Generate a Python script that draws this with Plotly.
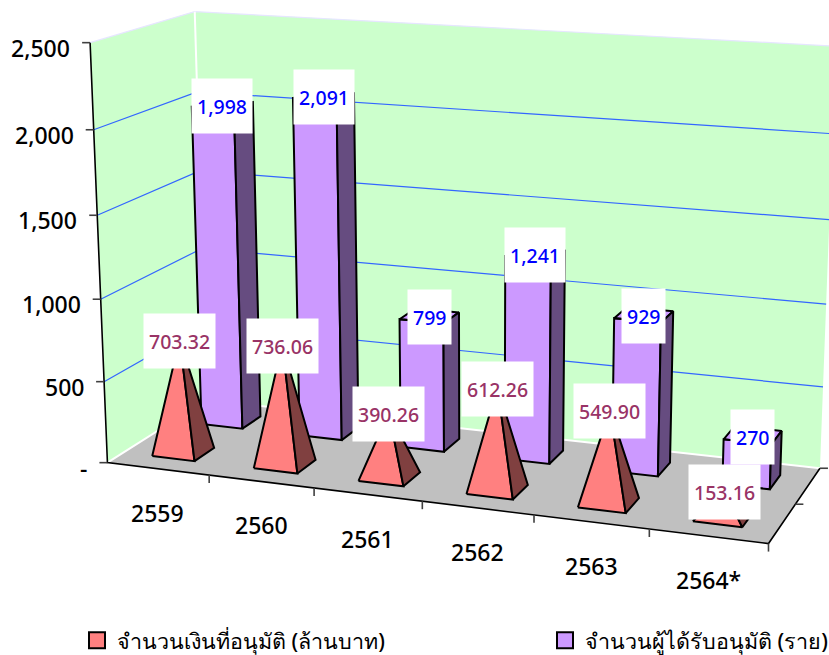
import numpy as np
import plotly.graph_objects as go

categories = ["2559", "2560", "2561", "2562", "2563", "2564*"]
amount = [703.32, 736.06, 390.26, 612.26, 549.90, 153.16]
people = [1998, 2091, 799, 1241, 929, 270]
name_a = "จำนวนเงินที่อนุมัติ (ล้านบาท)"
name_b = "จำนวนผู้ได้รับอนุมัติ (ราย)"
z_ticks = [0, 500, 1000, 1500, 2000, 2500]
z_text = ["-", "500", "1,000", "1,500", "2,000", "2,500"]
W, H = 829, 655
ZMAX = 2500
NCAT = len(categories)

# perspective of the 3-D box (unit box -> window), calibrated on its visible corners
view = [((0,0,0),(107.7,462.7)),((0,0,1),(90,43)),((1,0,0),(768,544)),((0,1,0),(206,400)),
        ((0,1,1),(195,12)),((1,1,0),(820,468)),((1,1,1),(836,46)),((1/6,0,0),(209,475.3)),
        ((2/6,0,0),(315,488)),((0,0,.8),(93.5,130)),((0,0,.6),(97,214))]
rows = []
for (a,b,c),(u,v) in view:
    rows.append([a,b,c,1,0,0,0,0,-u*a,-u*b,-u*c,-u])
    rows.append([0,0,0,0,a,b,c,1,-v*a,-v*b,-v*c,-v])
PM = np.linalg.svd(np.array(rows,float))[2][-1].reshape(3,4)

def pr(x, d, z):
    """category position, depth 0-1, value -> window position"""
    w = PM @ np.array([x/NCAT, d, z/ZMAX, 1.0])
    return (w[0]/w[2], w[1]/w[2])

def poly_trace(polys, fill, line=None, lw=2, closed=True):
    xs, ys = [], []
    for poly in polys:
        pts = [pr(*q) for q in poly]
        if closed: pts = pts+[pts[0]]
        xs += [p[0] for p in pts]+[None]
        ys += [p[1] for p in pts]+[None]
    return go.Scatter(x=xs,y=ys,mode="lines" if line else "none",fill="toself" if fill else None,
        fillcolor=fill,line=dict(color=line or "rgba(0,0,0,0)",width=lw),hoverinfo="skip",showlegend=False)

traces = []
# walls and floor
traces.append(poly_trace([[(0,0,0),(0,0,ZMAX),(0,1,ZMAX),(0,1,0)],[(0,1,0),(0,1,ZMAX),(NCAT,1,ZMAX),(NCAT,1,0)]],"#CCFFCC"))
traces.append(poly_trace([[(0,0,0),(NCAT,0,0),(NCAT,1,0),(0,1,0)]],"#C0C0C0"))
# gridlines
grid = [[(0,0,z),(0,1,z),(NCAT,1,z)] for z in z_ticks[1:-1]]
traces.append(poly_trace(grid,None,"#3366FF",1.2,closed=False))
traces.append(poly_trace([[(0,0,ZMAX),(0,1,ZMAX),(NCAT,1,ZMAX)]],None,"#E6E6FF",1.2,closed=False))
traces.append(poly_trace([[(0,1,ZMAX),(0,1,0)],[(0,0,0),(0,1,0),(NCAT,1,0)]],None,"white",2,closed=False))
# axis lines
traces.append(poly_trace([[(0,0,ZMAX),(0,0,0),(NCAT,0,0),(NCAT,1,0)]],None,"black",1.6,closed=False))
# tick marks (short strokes next to the axis)
tx, ty = [], []
for z in z_ticks:
    p = pr(0,0,z); tx += [p[0]-8,p[0],None]; ty += [p[1],p[1],None]
for i in range(1,NCAT+1):
    p = pr(i,0,0); tx += [p[0],p[0],None]; ty += [p[1],p[1]+8,None]
for d in [0.5,1]:
    p = pr(NCAT,d,0); tx += [p[0],p[0]+8,None]; ty += [p[1],p[1],None]
traces.append(go.Scatter(x=tx,y=ty,mode="lines",line=dict(color="#404040",width=1.6),hoverinfo="skip",showlegend=False))

hw = 0.21
dA0, dA1 = 0.15, 0.35
dB0, dB1 = 0.65, 0.85
front, side = [], []
for i, v in enumerate(people):
    x0,x1 = i+.5-hw, i+.5+hw
    front.append([(x0,dB0,0),(x1,dB0,0),(x1,dB0,v),(x0,dB0,v)])
    front.append([(x0,dB0,v),(x1,dB0,v),(x1,dB1,v),(x0,dB1,v)])
    side.append([(x1,dB0,0),(x1,dB1,0),(x1,dB1,v),(x1,dB0,v)])
traces.append(poly_trace(front,"#CC99FF","black",2))
traces.append(poly_trace(side,"#664C80","black",2))
front, side = [], []
for i, v in enumerate(amount):
    x0,x1 = i+.5-hw, i+.5+hw
    t = (i+.5,(dA0+dA1)/2,v)
    front.append([(x0,dA0,0),(x1,dA0,0),t])
    side.append([(x1,dA0,0),(x1,dA1,0),t])
traces.append(poly_trace(front,"#FF8080","black",2))
traces.append(poly_trace(side,"#804040","black",2))

fam = "Noto Sans, sans-serif"
ann = []
for i,v in enumerate(people):
    p = pr(i+.5,(dB0+dB1)/2,v)
    ann.append(dict(x=p[0],y=p[1],xref="x",yref="y",text=f"{v:,}",showarrow=False,height=44,borderpad=5,yshift=-1.5,bgcolor="white",
        font=dict(family=fam,size=19.5,color="#0000FF",weight=500)))
for i,v in enumerate(amount):
    p = pr(i+.5,(dA0+dA1)/2,v)
    ann.append(dict(x=p[0],y=p[1],xref="x",yref="y",text=f"{v:.2f}",showarrow=False,height=44,borderpad=5,yshift=-1.5,bgcolor="white",
        font=dict(family=fam,size=19.5,color="#993366",weight=500)))
for i,c in enumerate(categories):
    p = pr(i+.5,0,0)
    ann.append(dict(x=p[0],y=p[1],xref="x",yref="y",text=c,showarrow=False,yshift=-44,
        font=dict(family=fam,size=23,color="black",weight=500)))
for z,t in zip(z_ticks,z_text):
    p = pr(0,0,z)
    ann.append(dict(x=p[0],y=p[1],xref="x",yref="y",text=t,showarrow=False,xanchor="right",xshift=-18,yshift=-5,
        font=dict(family=fam,size=23,color="black",weight=500)))

traces.append(go.Scatter(x=[None],y=[None],mode="markers",name=name_a,legend="legend",marker=dict(symbol="square",size=16,color="#FF8080",line=dict(color="black",width=2))))
traces.append(go.Scatter(x=[None],y=[None],mode="markers",name=name_b,legend="legend2",marker=dict(symbol="square",size=16,color="#CC99FF",line=dict(color="black",width=2))))

lf = dict(family=fam,size=21.5,color="black",weight=500)
fig = go.Figure(traces)
fig.update_layout(width=W,height=H,margin=dict(l=0,r=0,t=0,b=0,autoexpand=False),paper_bgcolor="white",plot_bgcolor="white",
    xaxis=dict(visible=False,range=[0,W],fixedrange=True),yaxis=dict(visible=False,range=[H,0],fixedrange=True),
    legend=dict(x=77/W,y=-0.009,xanchor="left",yanchor="bottom",font=lf,bgcolor="rgba(0,0,0,0)",borderwidth=0),
    legend2=dict(x=545/W,y=-0.009,xanchor="left",yanchor="bottom",font=lf,bgcolor="rgba(0,0,0,0)",borderwidth=0),
    annotations=ann)
fig.write_html("out.html", config=dict(displayModeBar=False),
    post_script="document.body.style.margin='0';document.body.style.overflow='hidden';")
